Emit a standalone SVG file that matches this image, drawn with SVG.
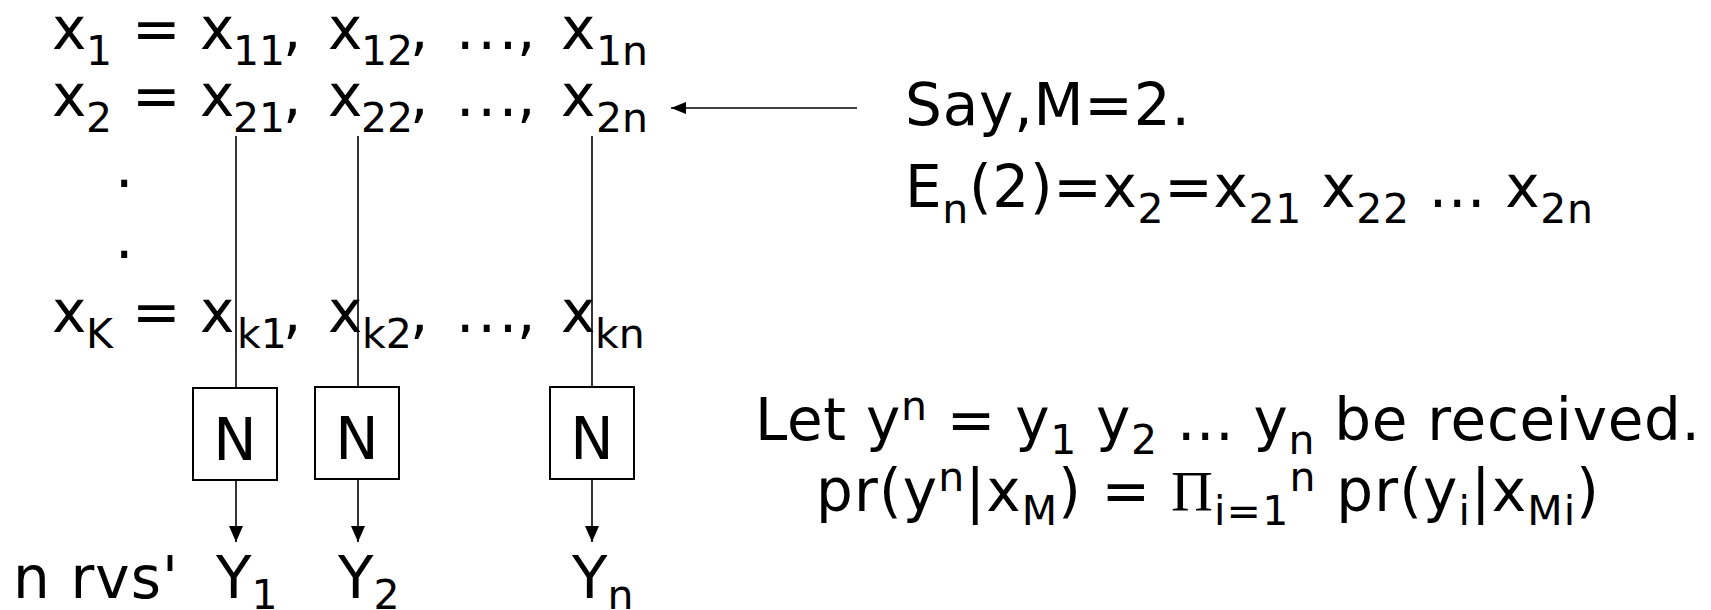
<svg xmlns="http://www.w3.org/2000/svg" width="1711" height="610" viewBox="0 0 1711 610">
<defs>
<style>
.t{font-family:"DejaVu Sans",Verdana,sans-serif;font-size:58px;fill:#000}
.s{font-size:41px}
.pi{font-family:"Liberation Serif","DejaVu Serif",serif}
.ln{stroke:#000;stroke-width:1.6;fill:none}
.box{stroke:#000;stroke-width:2;fill:#fff}
.dots{letter-spacing:3px}
</style>
<marker id="ah" markerWidth="16" markerHeight="20" refX="16" refY="7" orient="auto" markerUnits="userSpaceOnUse" viewBox="0 0 16 14">
<path d="M0,0 L16,7 L0,14 Z" fill="#000"/>
</marker>
<marker id="ahs" markerWidth="15" markerHeight="12" refX="15" refY="6" orient="auto" markerUnits="userSpaceOnUse" viewBox="0 0 15 12">
<path d="M0,0 L15,6 L0,12 Z" fill="#000"/>
</marker>
</defs>
<rect width="1711" height="610" fill="#fff"/>
<g id="codewords">
<text class="t" y="49"><tspan x="52">x</tspan><tspan class="s" x="86" dy="16">1</tspan><tspan x="132" dy="-16">=</tspan><tspan x="200">x</tspan><tspan class="s" x="233" dy="16">11</tspan><tspan x="283" dy="-16">,</tspan><tspan x="328">x</tspan><tspan class="s" x="361" dy="16">12</tspan><tspan x="410" dy="-16">,</tspan><tspan class="dots" x="456">...</tspan><tspan x="517">,</tspan><tspan x="561">x</tspan><tspan class="s" x="596" dy="16">1n</tspan></text>
<text class="t" y="116"><tspan x="52">x</tspan><tspan class="s" x="86" dy="16">2</tspan><tspan x="132" dy="-16">=</tspan><tspan x="200">x</tspan><tspan class="s" x="233" dy="16">21</tspan><tspan x="283" dy="-16">,</tspan><tspan x="328">x</tspan><tspan class="s" x="361" dy="16">22</tspan><tspan x="410" dy="-16">,</tspan><tspan class="dots" x="456">...</tspan><tspan x="517">,</tspan><tspan x="561">x</tspan><tspan class="s" x="596" dy="16">2n</tspan></text>
<text class="t" x="115" y="187">.</text>
<text class="t" x="115" y="258">.</text>
<text class="t" y="332"><tspan x="52">x</tspan><tspan class="s" x="86" dy="16">K</tspan><tspan x="132" dy="-16">=</tspan><tspan x="200">x</tspan><tspan class="s" x="237" dy="16">k1</tspan><tspan x="283" dy="-16">,</tspan><tspan x="328">x</tspan><tspan class="s" x="362" dy="16">k2</tspan><tspan x="410" dy="-16">,</tspan><tspan class="dots" x="456">...</tspan><tspan x="517">,</tspan><tspan x="561">x</tspan><tspan class="s" x="595" dy="16">kn</tspan></text>
</g>
<g id="connectors">
<line class="ln" x1="236" y1="136" x2="236" y2="388"/>
<line class="ln" x1="358" y1="136" x2="358" y2="387"/>
<line class="ln" x1="592" y1="136" x2="592" y2="387"/>
<line class="ln" x1="236" y1="480" x2="236" y2="542" marker-end="url(#ah)"/>
<line class="ln" x1="358" y1="479" x2="358" y2="542" marker-end="url(#ah)"/>
<line class="ln" x1="592" y1="479" x2="592" y2="542" marker-end="url(#ah)"/>
<line class="ln" x1="857" y1="108" x2="671" y2="108" marker-end="url(#ahs)"/>
</g>
<g id="n1"><rect class="box" x="193" y="388" width="84" height="92"/><text class="t" x="235" y="460" text-anchor="middle">N</text></g>
<g id="n2"><rect class="box" x="315" y="387" width="84" height="92"/><text class="t" x="357" y="459" text-anchor="middle">N</text></g>
<g id="n3"><rect class="box" x="550" y="387" width="84" height="92"/><text class="t" x="592" y="459" text-anchor="middle">N</text></g>
<g id="outputs">
<text class="t" x="13" y="598" textLength="165" lengthAdjust="spacing">n rvs'</text>
<text class="t" x="216" y="598">Y<tspan class="s" dy="11">1</tspan></text>
<text class="t" x="338" y="598">Y<tspan class="s" dy="11">2</tspan></text>
<text class="t" x="572" y="598">Y<tspan class="s" dy="11">n</tspan></text>
</g>
<g id="notes">
<text class="t" x="905" y="125" textLength="285" lengthAdjust="spacing">Say,M=2.</text>
<text class="t" x="905" y="207" textLength="688" lengthAdjust="spacing">E<tspan class="s" dy="16">n</tspan><tspan dy="-16">(2)=x</tspan><tspan class="s" dy="16">2</tspan><tspan dy="-16">=x</tspan><tspan class="s" dy="16">21</tspan><tspan dy="-16"> x</tspan><tspan class="s" dy="16">22</tspan><tspan dy="-16"> ... x</tspan><tspan class="s" dy="16">2n</tspan></text>
<text class="t" x="755" y="440" textLength="945" lengthAdjust="spacing">Let y<tspan class="s" dy="-20">n</tspan><tspan dy="20"> = y</tspan><tspan class="s" dy="14">1</tspan><tspan dy="-14"> y</tspan><tspan class="s" dy="14">2</tspan><tspan dy="-14"> ... y</tspan><tspan class="s" dy="14">n</tspan><tspan dy="-14"> be received.</tspan></text>
<text class="t" x="816" y="511" textLength="783" lengthAdjust="spacing">pr(y<tspan class="s" dy="-20">n</tspan><tspan dy="20">|x</tspan><tspan class="s" dy="14">M</tspan><tspan dy="-14">) = </tspan><tspan class="pi">Π</tspan><tspan class="s" dy="14">i=1</tspan><tspan class="s" dy="-34">n</tspan><tspan dy="20"> pr(y</tspan><tspan class="s" dy="14">i</tspan><tspan dy="-14">|x</tspan><tspan class="s" dy="14">Mi</tspan><tspan dy="-14">)</tspan></text>
</g>
</svg>
